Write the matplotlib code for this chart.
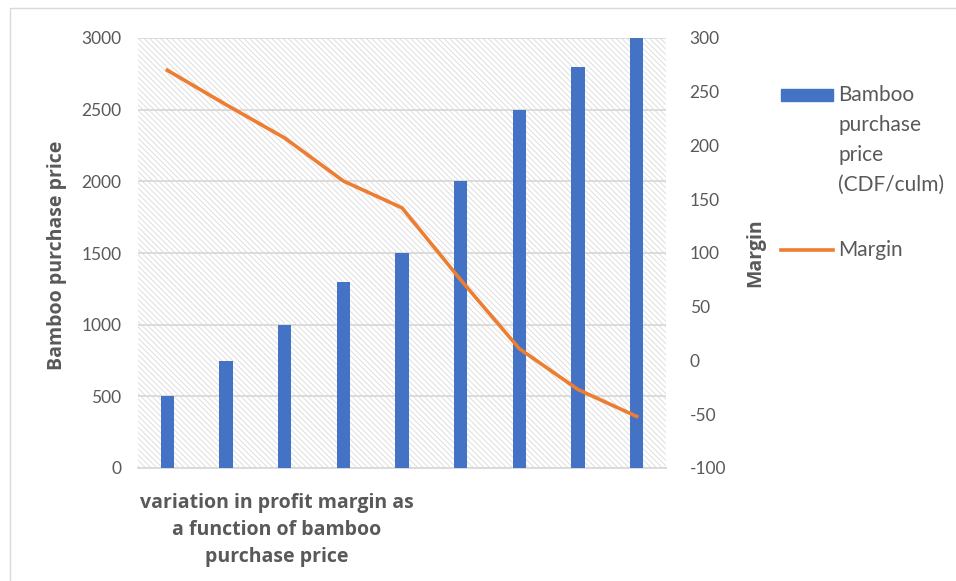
import matplotlib
matplotlib.use("Agg")
import matplotlib.pyplot as plt
from matplotlib.patches import Rectangle
from matplotlib.lines import Line2D

# data
prices = [500, 750, 1000, 1300, 1500, 2000, 2500, 2800, 3000]
margins = [270, 238, 207, 167, 142, 75, 11, -27, -52]
left_ticks = [0, 500, 1000, 1500, 2000, 2500, 3000]
right_ticks = [-100, -50, 0, 50, 100, 150, 200, 250, 300]
bar_label = "Bamboo\npurchase\nprice\n(CDF/culm)"
line_label = "Margin"
xlabel = "variation in profit margin as\na function of bamboo\npurchase price"

blue = "#4472C4"
orange = "#ED7D31"
grey_txt = "#595959"
grid_col = "#d9d9d9"

plt.rcParams["font.family"] = ["Lato", "DejaVu Sans"]
plt.rcParams["axes.unicode_minus"] = False
plt.rcParams["hatch.color"] = "#dadada"
plt.rcParams["hatch.linewidth"] = 0.6

W, H = 956, 581
fig = plt.figure(figsize=(W / 100, H / 100), dpi=100)

def fx(px):
    return px / W

def fy(py):
    return 1 - py / H

ax = fig.add_axes([fx(138), fy(468), fx(666) - fx(138), fy(38) - fy(468)])
# hatched plot-area fill
ax.add_patch(Rectangle((0, 0), 1, 1, transform=ax.transAxes, facecolor="white",
                       edgecolor="#dadada", hatch="\\\\\\\\\\\\", linewidth=0, zorder=0))

x = list(range(len(prices)))
ax.bar(x, prices, width=0.23, color=blue, zorder=3)
ax.set_xlim(-0.5, len(prices) - 0.5)
ax.set_ylim(0, 3000)
ax.set_yticks(left_ticks)
ax.set_xticks([])
ax.yaxis.grid(True, color=grid_col, linewidth=1.3, zorder=1)
for s in ["top", "left", "right"]:
    ax.spines[s].set_visible(False)
ax.spines["bottom"].set_color(grid_col)
ax.spines["bottom"].set_linewidth(1.3)
ax.tick_params(axis="y", length=0, pad=12, labelsize=12.5, labelcolor=grey_txt)

ax2 = ax.twinx()
ax2.plot(x, margins, color=orange, linewidth=2.6, solid_joinstyle="round", zorder=4)
ax2.set_ylim(-100, 300)
ax2.set_yticks(right_ticks)
for s in ax2.spines.values():
    s.set_visible(False)
ax2.tick_params(axis="y", length=0, pad=17, labelsize=12.5, labelcolor=grey_txt)

# axis titles
title_font = ["Open Sans", "DejaVu Sans"]
fig.text(fx(57), fy(255), "Bamboo purchase price", rotation=90, ha="center", va="center",
         fontsize=14, fontweight="bold", color=grey_txt, family=title_font)
fig.text(fx(755), fy(253), "Margin", rotation=90, ha="center", va="center",
         fontsize=14, fontweight="bold", color=grey_txt, family=title_font)
fig.text(fx(277), fy(530), xlabel, ha="center", va="center", fontsize=14,
         fontweight="bold", color=grey_txt, linespacing=1.45, family=title_font)

# legend drawn by hand so the swatch sits at the first line
fig.patches.append(Rectangle((fx(781), fy(101)), fx(833) - fx(781), fy(89) - fy(101),
                             transform=fig.transFigure, color=blue))
fig.text(fx(838), fy(85), bar_label, ha="left", va="top", fontsize=15,
         color=grey_txt, linespacing=1.62)
fig.lines.append(Line2D([fx(781), fx(833)], [fy(250), fy(250)], transform=fig.transFigure,
                        color=orange, linewidth=2.6))
fig.text(fx(838), fy(250), line_label, ha="left", va="center", fontsize=15, color=grey_txt)

# chart border
fig.lines.append(Line2D([fx(10), fx(10), fx(956)], [fy(581), fy(8), fy(8)],
                        transform=fig.transFigure, color=grid_col, linewidth=1))

fig.savefig("out.png", dpi=100)
